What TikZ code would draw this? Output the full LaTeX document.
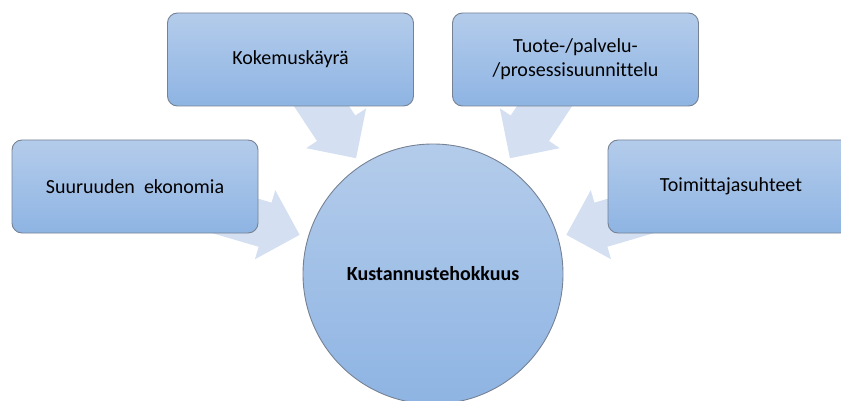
\documentclass[tikz,border=0pt]{standalone}
\usepackage{fontspec}
\setmainfont{Carlito}[Ligatures=NoCommon]
\usetikzlibrary{calc}
\definecolor{boxtop}{RGB}{180,204,235}
\definecolor{boxbot}{RGB}{142,180,227}
\definecolor{boxedge}{RGB}{118,130,148}
\definecolor{arrowfill}{RGB}{212,224,241}
\tikzset{
  itembox/.style={draw=boxedge, line width=0.9pt, rounded corners=10pt,
    top color=boxtop, bottom color=boxbot, minimum width=246pt, minimum height=93pt,
    inner sep=0pt, align=center, text=black,
    font=\fontsize{20}{24}\selectfont},
  hubcircle/.style={circle, draw=boxedge, line width=0.9pt,
    top color=boxtop, bottom color=boxbot, minimum size=260pt, inner sep=0pt,
    text=black, font=\fontsize{20}{24}\selectfont\bfseries},
  radarrowstyle/.style={fill=arrowfill, draw=none}
}
\newcommand\radarrow[1]{%
  \coordinate (T#1) at ($(hubc)!139pt!(#1.center)$);
  \coordinate (B#1) at ($(T#1)!36pt!(#1.center)$);
  \fill[radarrowstyle]
    ($(#1.center)!23pt!90:(T#1)$) --
    ($(B#1)!23pt!90:(T#1)$) --
    ($(B#1)!36pt!90:(T#1)$) --
    (T#1) --
    ($(B#1)!36pt!-90:(T#1)$) --
    ($(B#1)!23pt!-90:(T#1)$) --
    ($(#1.center)!23pt!-90:(T#1)$) -- cycle;
}
\begin{document}
\begin{tikzpicture}[x=1pt,y=-1pt]
\useasboundingbox (0,0) rectangle (841,401);
\clip (0,0) rectangle (841,401);
\coordinate (hubc) at (433,274);
\coordinate (left) at (135,186.5);
\coordinate (topl) at (290.5,59.5);
\coordinate (topr) at (575.5,59.5);
\coordinate (right) at (731,186.5);
\radarrow{left}
\radarrow{topl}
\radarrow{topr}
\radarrow{right}
\node[itembox] (nleft) at (left) {Suuruuden\ \ ekonomia};
\node[itembox] (ntopl) at (topl) {Kokemuskäyrä};
\node[itembox] (ntopr) at (topr) {Tuote-/palvelu-\\/prosessisuunnittelu};
\node[itembox] (nright) at (right) {Toimittajasuhteet};
\node[hubcircle] (hub) at (hubc) {Kustannustehokkuus};
\end{tikzpicture}
\end{document}
